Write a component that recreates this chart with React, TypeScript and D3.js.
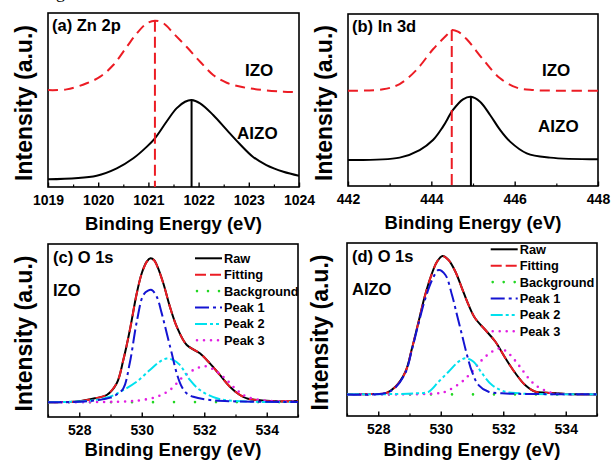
import React, { useEffect, useRef } from 'react';
import * as d3 from 'd3';

type Pt = [number, number];

// (a) Zn 2p, [binding energy (eV), intensity (a.u.)]
const znIZO: Pt[] = [
  [1019.0, 55.7], [1019.37, 56.1], [1019.77, 59.6], [1020.04, 63.4], [1020.3, 70.1],
  [1020.57, 80.6], [1020.77, 88.3], [1020.97, 94.1], [1021.13, 95.6], [1021.3, 94.1],
  [1021.5, 88.3], [1021.76, 80.6], [1022.03, 72.0], [1022.29, 64.4], [1022.56, 59.9],
  [1022.89, 57.3], [1023.29, 55.7], [1023.69, 54.8], [1024.0, 54.4]
];
const znAIZO: Pt[] = [
  [1019.0, 4.4], [1019.97, 6.5], [1020.37, 10.7], [1020.7, 16.5], [1020.97, 23.2],
  [1021.13, 28.0], [1021.36, 37.5], [1021.56, 45.2], [1021.73, 49.0], [1021.86, 50.0],
  [1022.03, 48.1], [1022.29, 41.4], [1022.56, 32.8], [1022.82, 24.7], [1023.08, 17.4],
  [1023.35, 12.6], [1023.69, 8.8], [1024.0, 6.5]
];
const znPeakIZO = 1021.13;
const znPeakAIZO = 1021.86;

// (b) In 3d
const inIZO: Pt[] = [
  [442.0, 55.4], [442.84, 56.2], [443.24, 59.3], [443.64, 67.4], [444.04, 79.5],
  [444.37, 87.8], [444.49, 90.7], [444.64, 89.7], [444.85, 85.3], [445.25, 73.3],
  [445.65, 62.6], [446.05, 57.2], [446.45, 55.8], [447.25, 55.4], [448.0, 55.4]
];
const inAIZO: Pt[] = [
  [442.0, 15.1], [443.24, 16.5], [443.72, 20.9], [444.04, 26.7], [444.28, 34.5],
  [444.52, 44.2], [444.76, 50.4], [444.95, 51.9], [445.17, 49.0], [445.41, 41.3],
  [445.65, 32.6], [445.89, 25.8], [446.29, 19.0], [446.85, 16.5], [448.0, 15.5]
];
const inPeakIZO = 444.49;
const inPeakAIZO = 444.95;

// (c) O 1s, IZO
const oIZORaw: Pt[] = [
  [527.0, 8.5], [527.5, 8.6], [528.0, 9.1], [528.5, 10.8], [528.88, 12.7], [529.2, 19.5],
  [529.41, 32.9], [529.62, 50.3], [529.84, 71.5], [530.0, 83.1], [530.16, 89.8], [530.28, 91.7],
  [530.4, 90.6], [530.48, 87.9], [530.69, 77.3], [530.9, 63.8], [531.12, 52.2], [531.44, 41.6],
  [531.86, 36.8], [532.18, 31.0], [532.5, 24.3], [532.82, 17.5], [533.14, 12.7], [533.4, 10.5],
  [534.0, 9.4], [534.5, 9.0], [535.0, 9.2]
];
const oIZOFit: Pt[] = [
  [527.0, 8.5], [527.5, 8.6], [528.0, 9.1], [528.5, 10.8], [528.88, 12.8], [529.2, 19.6],
  [529.41, 33.0], [529.62, 50.3], [529.84, 71.4], [530.0, 83.0], [530.16, 89.7], [530.28, 91.6],
  [530.4, 90.5], [530.48, 87.8], [530.69, 77.2], [530.9, 63.8], [531.12, 52.2], [531.44, 41.7],
  [531.86, 36.8], [532.18, 31.0], [532.5, 24.3], [532.82, 17.5], [533.14, 12.8], [533.4, 10.6],
  [534.0, 9.3], [534.5, 9.1], [535.0, 9.1]
];
const oIZOBg: Pt[] = [[527.0, 8.5], [529.0, 8.5], [531.0, 8.6], [533.0, 8.6], [535.0, 8.6]];
const oIZOPeak1: Pt[] = [
  [527.0, 8.5], [528.0, 8.8], [528.6, 9.8], [529.0, 11.2], [529.2, 13.0], [529.41, 16.5],
  [529.62, 31.5], [529.84, 55.0], [530.05, 70.5], [530.2, 73.0], [530.32, 73.4], [530.48, 69.5],
  [530.64, 59.9], [530.8, 48.4], [530.96, 36.8], [531.12, 25.2], [531.28, 17.5], [531.45, 13.5],
  [531.65, 11.7], [532.18, 9.8], [533.0, 9.0], [535.0, 8.7]
];
const oIZOPeak2: Pt[] = [
  [527.0, 8.5], [528.0, 9.0], [528.5, 9.8], [528.98, 11.7], [529.41, 15.6], [529.84, 20.4],
  [530.26, 27.2], [530.58, 32.0], [530.8, 33.8], [531.0, 33.0], [531.22, 30.1], [531.54, 21.4],
  [531.86, 15.6], [532.4, 10.8], [533.0, 9.2], [535.0, 8.7]
];
const oIZOPeak3: Pt[] = [
  [527.0, 8.5], [529.5, 9.0], [530.0, 9.8], [530.48, 11.7], [530.9, 15.6], [531.33, 23.3],
  [531.76, 28.1], [532.05, 29.3], [532.4, 26.2], [532.72, 21.4], [533.04, 15.6], [533.36, 11.7],
  [534.0, 9.4], [535.0, 9.0]
];

// (d) O 1s, AIZO
const oAIZORaw: Pt[] = [
  [527.0, 12.5], [527.8, 12.7], [528.23, 13.1], [528.55, 16.9], [528.87, 25.6], [529.08, 39.1],
  [529.29, 54.5], [529.5, 69.9], [529.72, 82.5], [529.88, 89.2], [530.06, 92.5], [530.25, 90.2],
  [530.47, 83.4], [530.68, 73.8], [530.89, 64.2], [531.1, 56.5], [531.43, 49.7], [531.75, 42.9],
  [532.07, 33.4], [532.39, 24.7], [532.7, 17.9], [533.03, 14.0], [533.4, 13.5], [534.0, 12.7],
  [535.0, 12.5]
];
const oAIZOFit: Pt[] = [
  [527.0, 12.5], [527.8, 12.7], [528.23, 13.2], [528.55, 16.8], [528.87, 25.5], [529.08, 39.0],
  [529.29, 54.4], [529.5, 69.8], [529.72, 82.4], [529.88, 89.1], [530.06, 92.4], [530.25, 90.1],
  [530.47, 83.4], [530.68, 73.8], [530.89, 64.2], [531.1, 56.5], [531.43, 49.7], [531.75, 42.9],
  [532.07, 33.4], [532.39, 24.7], [532.7, 17.9], [533.03, 14.1], [533.4, 13.4], [534.0, 12.7],
  [535.0, 12.5]
];
const oAIZOBg: Pt[] = [[527.0, 12.5], [529.0, 12.5], [531.0, 12.5], [533.0, 12.5], [535.0, 12.5]];
const oAIZOPeak1: Pt[] = [
  [527.0, 12.5], [528.2, 13.1], [528.55, 16.5], [528.87, 25.0], [529.08, 38.5], [529.29, 53.5],
  [529.5, 67.5], [529.72, 78.5], [529.93, 84.4], [530.15, 81.5], [530.36, 69.9], [530.52, 58.4],
  [530.68, 46.8], [530.84, 35.3], [531.0, 25.6], [531.21, 17.9], [531.53, 14.0], [531.96, 13.1],
  [533.0, 12.7], [535.0, 12.5]
];
const oAIZOPeak2: Pt[] = [
  [527.0, 12.5], [528.5, 12.7], [529.2, 13.1], [529.61, 14.0], [529.93, 19.8], [530.25, 25.6],
  [530.57, 31.4], [530.79, 33.4], [531.05, 31.4], [531.32, 24.7], [531.64, 17.9], [532.07, 14.0],
  [532.5, 13.1], [533.0, 12.7], [535.0, 12.5]
];
const oAIZOPeak3: Pt[] = [
  [527.0, 12.5], [529.5, 12.7], [530.0, 13.3], [530.15, 14.0], [530.68, 19.8], [531.0, 25.6],
  [531.32, 32.4], [531.64, 37.2], [531.91, 39.1], [532.17, 36.2], [532.49, 29.5], [532.81, 21.8],
  [533.03, 17.9], [533.3, 15.0], [533.7, 12.9], [535.0, 12.5]
];

const znMajor = [1019, 1020, 1021, 1022, 1023, 1024];
const znMinor = [1019.5, 1020.5, 1021.5, 1022.5, 1023.5];
const inMajor = [442, 444, 446, 448];
const inMinor = [443, 445, 447];
const oMajor = [528, 530, 532, 534];
const oMinor = [527, 529, 531, 533, 535];
const legendNames = ['Raw', 'Fitting', 'Background', 'Peak 1', 'Peak 2', 'Peak 3'];

const FONT = '"Liberation Sans", Arial, Helvetica, sans-serif';
const RED = '#ec1c24';
const BLUE = '#1414d2';
const CYAN = '#00e1ee';
const MAGENTA = '#e21ee2';
const GREEN = '#22d722';

// line styles; a dash starting with "0," is drawn as round dots
const styles = [
  { color: '#000', dash: null, legendDash: null },
  { color: RED, dash: '10,6', legendDash: '11,4' },
  { color: GREEN, dash: '0,21', legendDash: '0,11' },
  { color: BLUE, dash: '14,4,3,4', legendDash: '14,4,3,4' },
  { color: CYAN, dash: '12,3,3,3,3,3', legendDash: '12,3,3,3,3,3' },
  { color: MAGENTA, dash: '0,7', legendDash: '0,7' },
];

const isDots = (d: string | null) => !!d && d.startsWith('0,');

interface Box { left: number; right: number; top: number; bottom: number; }

function drawFrame(svg: any, id: string, box: Box, xDomain: number[], major: number[], minor: number[], yTitleX: number, titleY: number) {
  const x = d3.scaleLinear().domain(xDomain).range([box.left, box.right]);
  const y = d3.scaleLinear().domain([0, 100]).range([box.bottom, box.top]);

  svg.append('clipPath').attr('id', id)
    .append('rect')
    .attr('x', box.left).attr('y', box.top)
    .attr('width', box.right - box.left).attr('height', box.bottom - box.top);

  const minorAx = svg.append('g').attr('transform', `translate(0,${box.bottom})`)
    .call(d3.axisBottom(x).tickValues(minor).tickSize(-2.5).tickFormat(() => ''));
  minorAx.select('.domain').remove();
  minorAx.selectAll('line').attr('stroke-width', 1.2);

  const majorAx = svg.append('g').attr('transform', `translate(0,${box.bottom})`)
    .call(d3.axisBottom(x).tickValues(major).tickSize(-4.5).tickPadding(8).tickFormat(d3.format('d')));
  majorAx.select('.domain').remove();
  majorAx.selectAll('line').attr('stroke-width', 1.4);
  majorAx.attr('font-size', 14).attr('font-family', FONT).attr('font-weight', 'bold');
  majorAx.selectAll('text').attr('fill', '#000');

  svg.append('rect')
    .attr('x', box.left).attr('y', box.top)
    .attr('width', box.right - box.left).attr('height', box.bottom - box.top)
    .attr('fill', 'none').attr('stroke', '#000').attr('stroke-width', 1.6);

  svg.append('text')
    .attr('x', (box.left + box.right) / 2).attr('y', titleY)
    .attr('text-anchor', 'middle')
    .attr('font-family', FONT).attr('font-weight', 'bold').attr('font-size', 18.5)
    .text('Binding Energy (eV)');

  svg.append('text')
    .attr('transform', `translate(${yTitleX},${(box.top + box.bottom) / 2 + 3}) rotate(-90)`)
    .attr('text-anchor', 'middle')
    .attr('font-family', FONT).attr('font-weight', 'bold').attr('font-size', 23)
    .text('Intensity (a.u.)');

  const plot = svg.append('g').attr('clip-path', `url(#${id})`);
  return { x, y, plot };
}

function label(svg: any, x: number, y: number, t: string, size = 16.5) {
  svg.append('text').attr('x', x).attr('y', y)
    .attr('font-family', FONT).attr('font-weight', 'bold').attr('font-size', size)
    .text(t);
}

function drawCurve(plot: any, x: any, y: any, data: Pt[], color: string, dash: string | null, width = 2) {
  const line = d3.line<Pt>().x(d => x(d[0])).y(d => y(d[1])).curve(d3.curveCatmullRom.alpha(0.5));
  plot.append('path').datum(data)
    .attr('d', line)
    .attr('fill', 'none')
    .attr('stroke', color)
    .attr('stroke-width', isDots(dash) ? 2.6 : width)
    .attr('stroke-linecap', isDots(dash) ? 'round' : 'butt')
    .attr('stroke-dasharray', dash);
}

function drawSpectra(svg: any, id: string, box: Box, xDomain: number[], major: number[], minor: number[], yTitleX: number,
  izo: Pt[], aizo: Pt[], peakIzo: number, peakAizo: number, title: string, izoLbl: number[], aizoLbl: number[]) {
  const { x, y, plot } = drawFrame(svg, id, box, xDomain, major, minor, yTitleX, box.bottom + 43);
  drawCurve(plot, x, y, aizo, '#000', null);
  drawCurve(plot, x, y, izo, RED, '10,6');
  const topIzo = izo.find(d => d[0] === peakIzo)![1];
  const topAizo = aizo.find(d => d[0] === peakAizo)![1];
  plot.append('line')
    .attr('x1', x(peakIzo)).attr('x2', x(peakIzo))
    .attr('y1', y(topIzo)).attr('y2', y(0))
    .attr('stroke', RED).attr('stroke-width', 2).attr('stroke-dasharray', '11,5');
  plot.append('line')
    .attr('x1', x(peakAizo)).attr('x2', x(peakAizo))
    .attr('y1', y(topAizo)).attr('y2', y(0))
    .attr('stroke', '#000').attr('stroke-width', 2);
  label(svg, box.left + 4, box.top + 18, title);
  label(svg, izoLbl[0], izoLbl[1], 'IZO', 17);
  label(svg, aizoLbl[0], aizoLbl[1], 'AIZO', 17);
}

function drawO1s(svg: any, id: string, box: Box, yTitleX: number, series: Pt[][], title: string, sample: string, legendX: number, legendY: number) {
  const { x, y, plot } = drawFrame(svg, id, box, [527, 535], oMajor, oMinor, yTitleX, 456);
  // raw, fitting, then background and peaks on top
  const order = [0, 1, 2, 5, 4, 3];
  order.forEach(i => drawCurve(plot, x, y, series[i], styles[i].color, styles[i].dash));
  label(svg, box.left + 5, box.top + 18.5, title);
  label(svg, box.left + 5, box.top + 52, sample, 16.5);

  legendNames.forEach((name, i) => {
    const ly = legendY + i * 16.4;
    const dots = isDots(styles[i].legendDash);
    svg.append('line')
      .attr('x1', dots ? legendX + 2 : legendX).attr('x2', legendX + 27)
      .attr('y1', ly).attr('y2', ly)
      .attr('stroke', styles[i].color).attr('stroke-width', dots ? 2.6 : 2)
      .attr('stroke-linecap', dots ? 'round' : 'butt')
      .attr('stroke-dasharray', styles[i].legendDash);
    svg.append('text')
      .attr('x', legendX + 29).attr('y', ly + 4.5)
      .attr('font-family', FONT).attr('font-weight', 'bold').attr('font-size', 12.8)
      .text(name);
  });
}

export default function App() {
  const ref = useRef<SVGSVGElement>(null);

  useEffect(() => {
    const svg = d3.select(ref.current);
    svg.selectAll('*').remove();

    // remains of the figure caption above the crop
    svg.append('text').attr('x', 56).attr('y', -2)
      .attr('font-family', '"Liberation Serif", serif').attr('font-size', 18).text('g');

    drawSpectra(svg, 'clipA', { left: 48, right: 299, top: 13, bottom: 187 }, [1019, 1024], znMajor, znMinor, 32,
      znIZO, znAIZO, znPeakIZO, znPeakAIZO, '(a) Zn 2p', [245, 76], [237, 138.5]);
    drawSpectra(svg, 'clipB', { left: 348, right: 598, top: 14, bottom: 186 }, [442, 448], inMajor, inMinor, 332,
      inIZO, inAIZO, inPeakIZO, inPeakAIZO, '(b) In 3d', [542, 76], [538, 132]);
    drawO1s(svg, 'clipC', { left: 48, right: 298, top: 244, bottom: 417 }, 32,
      [oIZORaw, oIZOFit, oIZOBg, oIZOPeak1, oIZOPeak2, oIZOPeak3], '(c) O 1s', 'IZO', 195, 258.3);
    drawO1s(svg, 'clipD', { left: 347, right: 597, top: 243, bottom: 416 }, 328,
      [oAIZORaw, oAIZOFit, oAIZOBg, oAIZOPeak1, oAIZOPeak2, oAIZOPeak3], '(d) O 1s', 'AIZO', 490.7, 249.3);
  }, []);

  return (
    <svg ref={ref} width={611} height={460}
      style={{ position: 'absolute', left: 0, top: 0, background: '#fff' }} />
  );
}
